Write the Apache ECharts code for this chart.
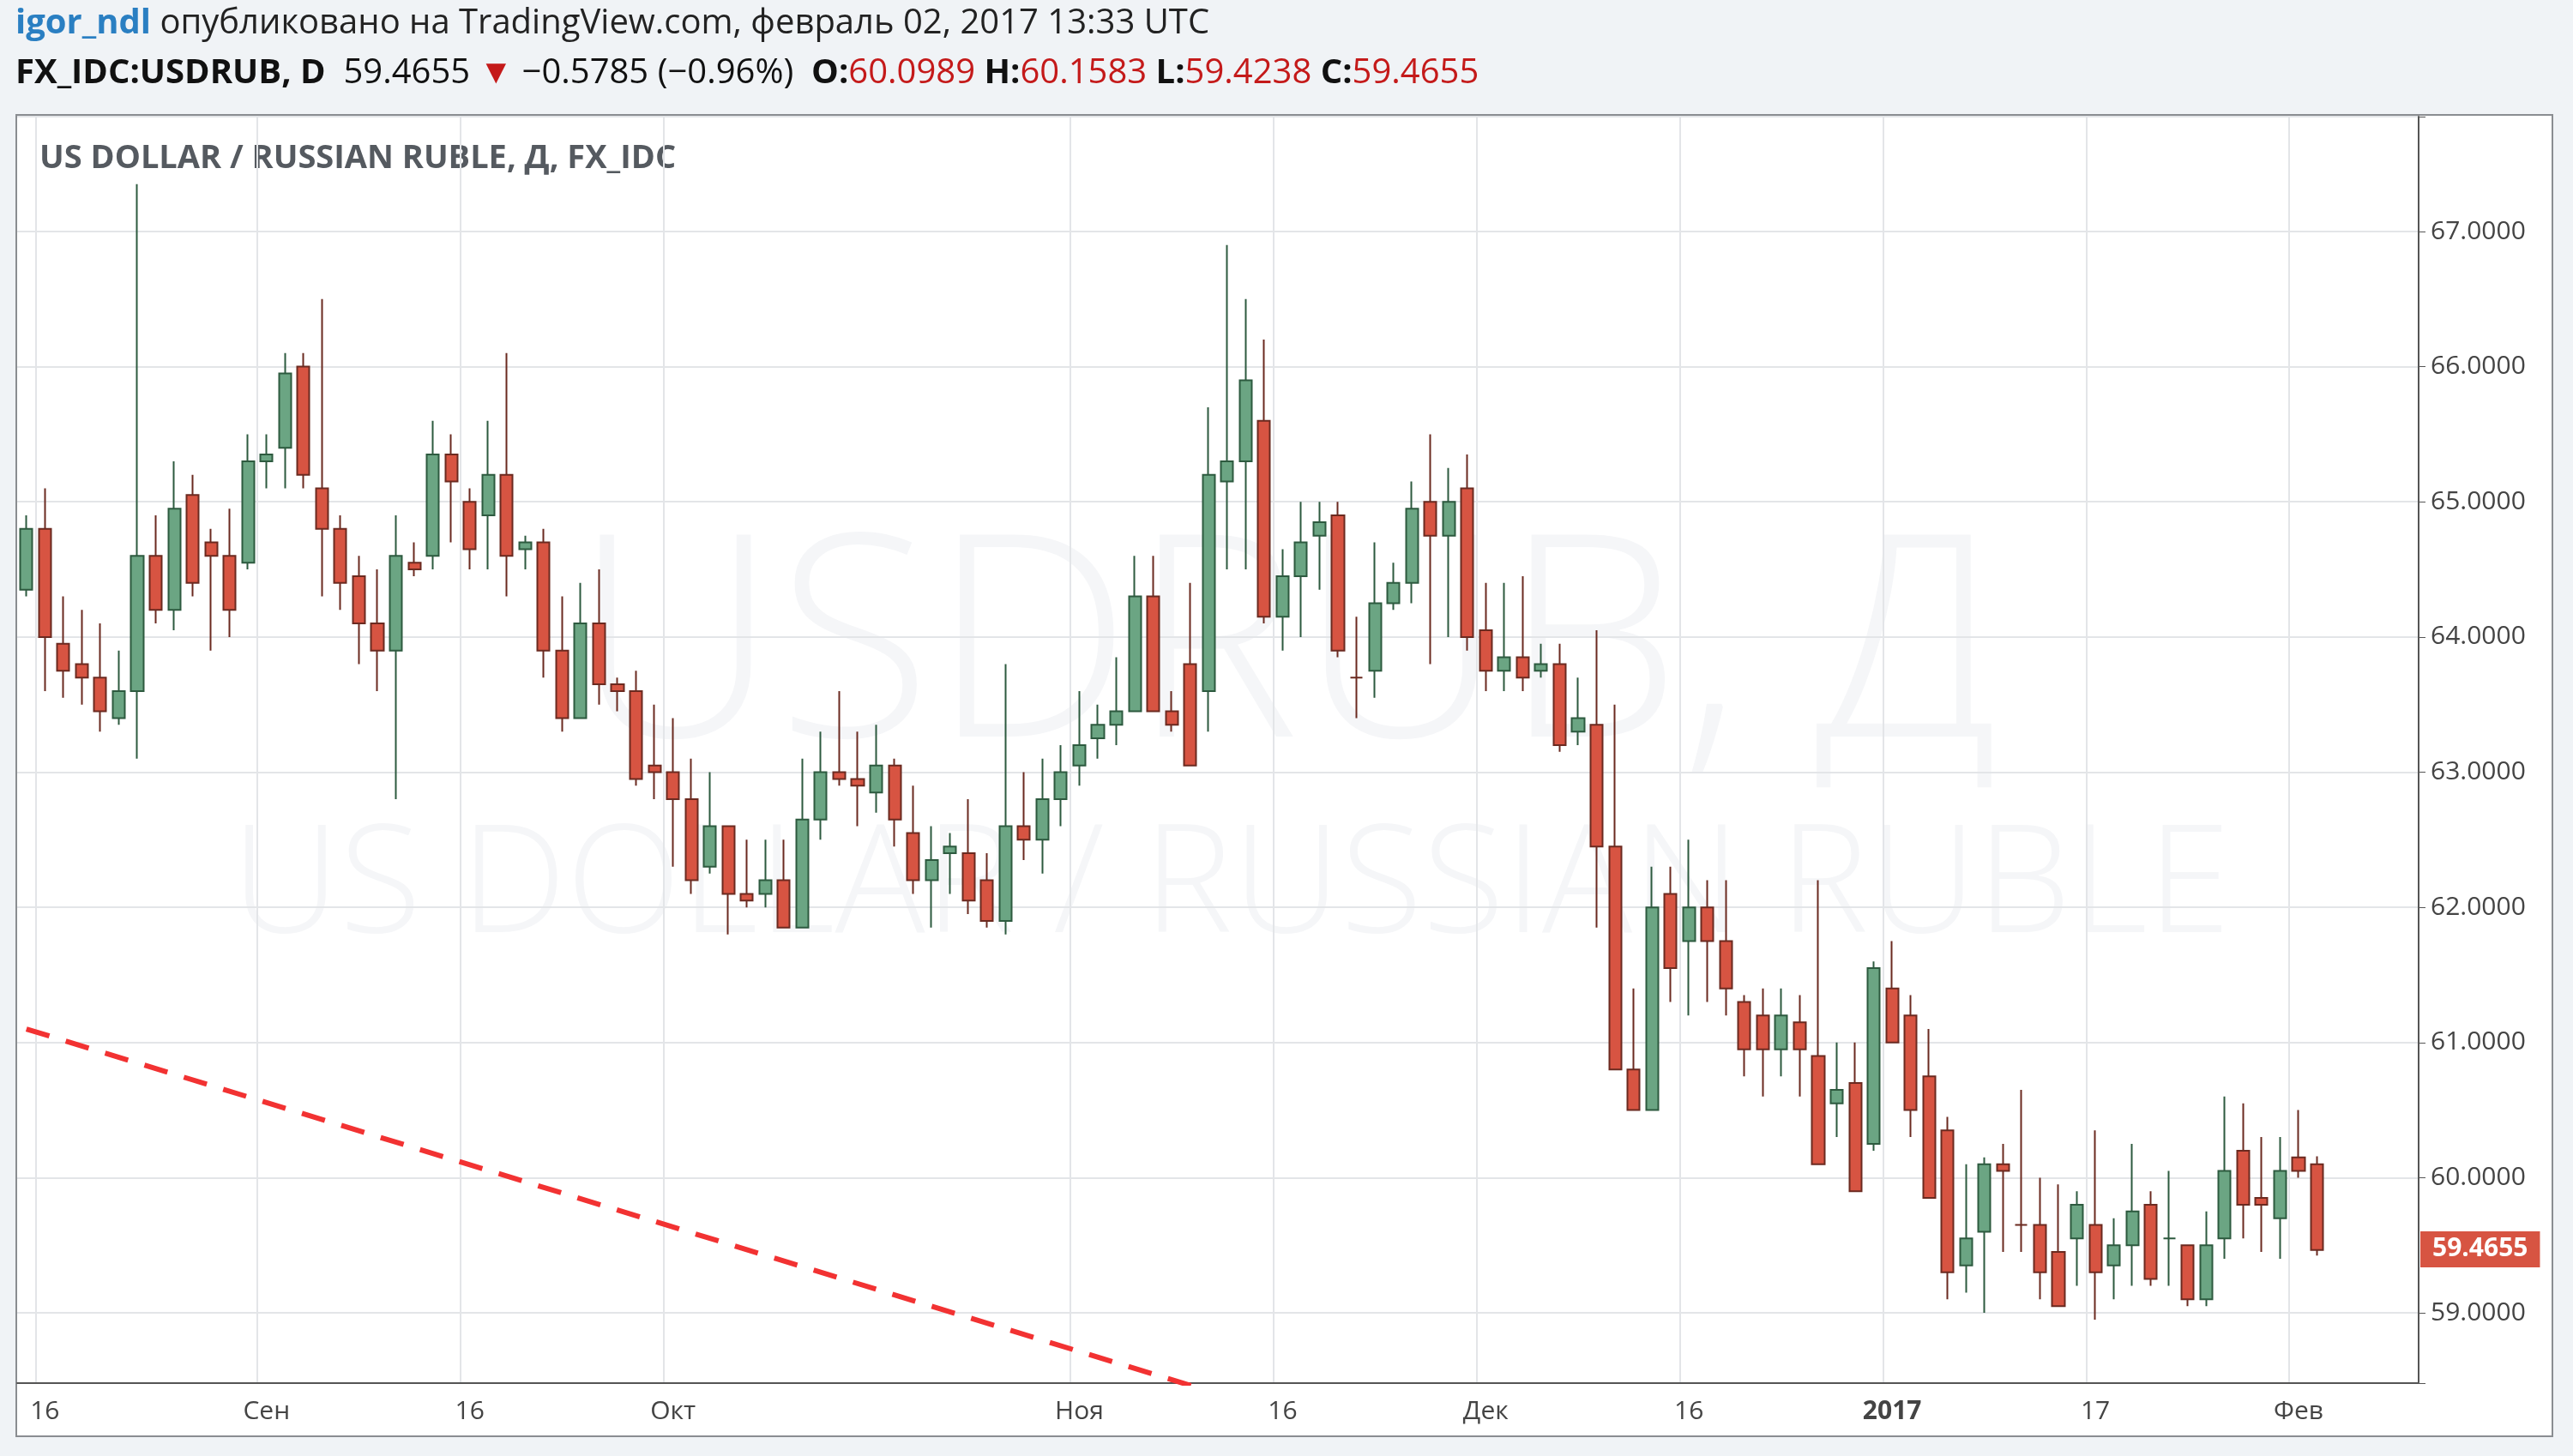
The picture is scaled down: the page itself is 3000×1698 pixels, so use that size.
<!DOCTYPE html>
<html lang="ru">
<head>
<meta charset="UTF-8">
<title>USDRUB</title>
<script src="https://cdn.jsdelivr.net/npm/echarts@6/dist/echarts.min.js"></script>
<style>
  html, body { margin: 0; padding: 0; background: #f0f3f6; }
  #main { width: 3000px; height: 1698px; }
</style>
</head>
<body>
<div id="main"></div>
<script>
// daily candles
var opens  = [64.35,64.8,63.95,63.8,63.7,63.4,63.6,64.6,64.2,65.05,64.7,64.6,64.55,65.3,65.4,66.0,65.1,64.8,64.45,64.1,63.9,64.55,64.6,65.35,65.0,64.9,65.2,64.65,64.7,63.9,63.4,64.1,63.65,63.6,63.05,63.0,62.8,62.3,62.6,62.1,62.1,62.2,61.85,62.65,63.0,62.95,62.85,63.05,62.55,62.2,62.4,62.4,62.2,61.9,62.6,62.5,62.8,63.05,63.25,63.35,63.45,64.3,63.45,63.8,63.6,65.15,65.3,65.6,64.15,64.45,64.75,64.9,63.7,63.75,64.25,64.4,65.0,64.75,65.1,64.05,63.75,63.85,63.75,63.8,63.3,63.35,62.45,60.8,60.5,62.1,61.75,62.0,61.75,61.3,61.2,60.95,61.15,60.9,60.55,60.7,60.25,61.4,61.2,60.75,60.35,59.35,59.6,60.1,59.65,59.65,59.45,59.55,59.65,59.35,59.5,59.8,59.55,59.5,59.1,59.55,60.2,59.85,59.7,60.15,60.0989];
var closes = [64.8,64.0,63.75,63.7,63.45,63.6,64.6,64.2,64.95,64.4,64.6,64.2,65.3,65.35,65.95,65.2,64.8,64.4,64.1,63.9,64.6,64.5,65.35,65.15,64.65,65.2,64.6,64.7,63.9,63.4,64.1,63.65,63.6,62.95,63.0,62.8,62.2,62.6,62.1,62.05,62.2,61.85,62.65,63.0,62.95,62.9,63.05,62.65,62.2,62.35,62.45,62.05,61.9,62.6,62.5,62.8,63.0,63.2,63.35,63.45,64.3,63.45,63.35,63.05,65.2,65.3,65.9,64.15,64.45,64.7,64.85,63.9,63.7,64.25,64.4,64.95,64.75,65.0,64.0,63.75,63.85,63.7,63.8,63.2,63.4,62.45,60.8,60.5,62.0,61.55,62.0,61.75,61.4,60.95,60.95,61.2,60.95,60.1,60.65,59.9,61.55,61.0,60.5,59.85,59.3,59.55,60.1,60.05,59.65,59.3,59.05,59.8,59.3,59.5,59.75,59.25,59.55,59.1,59.5,60.05,59.8,59.8,60.05,60.05,59.4655];
var lows   = [64.3,63.6,63.55,63.5,63.3,63.35,63.1,64.1,64.05,64.3,63.9,64.0,64.5,65.1,65.1,65.1,64.3,64.2,63.8,63.6,62.8,64.45,64.5,64.7,64.5,64.5,64.3,64.5,63.7,63.3,63.4,63.5,63.45,62.9,62.8,62.3,62.1,62.25,61.8,62.0,62.0,61.85,61.85,62.5,62.9,62.6,62.7,62.45,62.1,61.85,62.1,61.95,61.85,61.8,62.35,62.25,62.6,62.9,63.1,63.2,63.45,63.45,63.3,63.05,63.3,64.5,64.5,64.1,63.9,64.0,64.35,63.85,63.4,63.55,64.2,64.25,63.8,64.0,63.9,63.6,63.6,63.6,63.7,63.15,63.2,61.85,60.8,60.5,60.5,61.3,61.2,61.3,61.2,60.75,60.6,60.75,60.6,60.1,60.3,59.9,60.2,61.0,60.3,59.85,59.1,59.15,59.0,59.45,59.45,59.1,59.05,59.2,58.95,59.1,59.2,59.2,59.2,59.05,59.05,59.4,59.55,59.45,59.4,60.0,59.4238];
var highs  = [64.9,65.1,64.3,64.2,64.1,63.9,67.35,64.9,65.3,65.2,64.8,64.95,65.5,65.5,66.1,66.1,66.5,64.9,64.6,64.5,64.9,64.7,65.6,65.5,65.1,65.6,66.1,64.75,64.8,64.3,64.4,64.5,63.7,63.75,63.5,63.4,63.1,63.0,62.6,62.5,62.5,62.5,63.1,63.3,63.6,63.3,63.35,63.1,62.9,62.6,62.55,62.8,62.4,63.8,63.0,63.1,63.2,63.6,63.5,63.85,64.6,64.6,63.6,64.4,65.7,66.9,66.5,66.2,64.65,65.0,65.0,65.0,64.15,64.7,64.55,65.15,65.5,65.25,65.35,64.4,64.4,64.45,63.95,63.95,63.7,64.05,63.5,61.4,62.3,62.3,62.5,62.2,62.2,61.35,61.4,61.4,61.35,62.2,61.0,61.0,61.6,61.75,61.35,61.1,60.45,60.1,60.15,60.25,60.65,60.0,59.95,59.9,60.35,59.7,60.25,59.9,60.05,59.5,59.75,60.6,60.55,60.3,60.3,60.5,60.1583];
// date labels under the candles (index -> text)
var dateLabels = {1:'16', 13:'Сен', 24:'16', 35:'Окт', 57:'Ноя', 68:'16', 79:'Дек', 90:'16', 101:'2017', 112:'17', 123:'Фев'};
var emptySlots = 5;   // free space right of the last candle
// hand drawn trend line: [candle index, price]
var trendLine = [[0, 61.1], [70, 58.17]];
var lastPrice = 59.4655;

var categories = [];
var candles = [];
for (var i = 0; i < opens.length + emptySlots; i++) {
    categories.push(dateLabels[i] || '');
    if (i < opens.length) candles.push([opens[i], closes[i], lows[i], highs[i]]);
}

var myChart = echarts.init(document.getElementById('main'));
var font = '"Open Sans", "Noto Sans", sans-serif';
var option = {
    backgroundColor: '#f0f3f6',
    animation: false,
    textStyle: { fontFamily: font },
    graphic: [
        { type: 'rect', z: -10, shape: { x: 19, y: 134, width: 2957, height: 1541 },
          style: { fill: '#ffffff', stroke: '#8a8d91', lineWidth: 2 } },
        { type: 'text', z: -5, left: 'center', top: 600,
          style: { text: 'USDRUB, Д', font: '300 330px ' + font, fill: '#f5f6f8' } },
        { type: 'text', z: -5, left: 270, top: 950,
          style: { text: 'US DOLLAR / RUSSIAN RUBLE', font: '300 175px ' + font, fill: '#f5f6f8' } },
        { type: 'text', left: 46, top: 166,
          style: { text: 'US DOLLAR / RUSSIAN RUBLE, Д, FX_IDC', font: 'bold 38px ' + font, fill: '#555a60' } },
        { type: 'text', left: 18, top: 8,
          style: {
              text: '{u|igor_ndl}{n| опубликовано на TradingView.com, февраль 02, 2017 13:33 UTC}',
              rich: {
                  u: { font: 'bold 40px ' + font, fill: '#2a7fc2' },
                  n: { font: '40px ' + font, fill: '#222' }
              }
          } },
        { type: 'text', left: 18, top: 66,
          style: {
              text: '{b|FX_IDC:USDRUB, D}{n|  59.4655 }{r|▼}{n| −0.5785 (−0.96%)  }{b|O:}{r|60.0989 }{b|H:}{r|60.1583 }{b|L:}{r|59.4238 }{b|C:}{r|59.4655}',
              rich: {
                  b: { font: 'bold 40px ' + font, fill: '#111' },
                  n: { font: '40px ' + font, fill: '#111' },
                  r: { font: '40px ' + font, fill: '#c41a1a' }
              }
          } }
    ],
    grid: { left: 20, right: 180, top: 136, bottom: 85 },
    xAxis: {
        type: 'category',
        data: categories,
        boundaryGap: true,
        axisLine: { lineStyle: { color: '#555', width: 2 } },
        axisTick: { show: false },
        axisLabel: {
            interval: 0, color: '#444', fontSize: 30, margin: 18,
            formatter: function (v) { return v === '2017' ? '{y|2017}' : v; },
            rich: { y: { fontWeight: 'bold', fontSize: 30, color: '#444' } }
        },
        splitLine: {
            show: true,
            interval: function (idx, v) { return v !== ''; },
            lineStyle: { color: '#e3e5e8', width: 2 }
        }
    },
    yAxis: {
        type: 'value',
        position: 'right',
        min: 58.48,
        max: 67.85,
        splitNumber: 9,
        axisLine: { show: true, lineStyle: { color: '#555', width: 2 } },
        axisTick: { show: true, length: 8, lineStyle: { color: '#555' } },
        axisLabel: { color: '#444', fontSize: 30, margin: 14,
            formatter: function (v) { return Number.isInteger(v) ? v.toFixed(4) : ''; } },
        splitLine: { lineStyle: { color: '#e3e5e8', width: 2 } }
    },
    series: [
        {
            type: 'candlestick',
            data: candles,
            barWidth: '68%',
            itemStyle: {
                color: '#6ba583', color0: '#d75442',
                borderColor: '#2d5a3f', borderColor0: '#6b2a20', borderWidth: 2
            },
            markLine: {
                symbol: 'none', silent: true,
                data: [{ yAxis: lastPrice }],
                lineStyle: { color: 'rgba(0,0,0,0)', width: 1, type: 'solid' },
                label: {
                    show: true,
                    position: 'end', formatter: lastPrice.toFixed(4),
                    color: '#fff', fontSize: 30, fontWeight: 'bold',
                    backgroundColor: '#d75442', padding: [6, 14], distance: 2
                }
            }
        },
        {
            type: 'line',
            data: trendLine,
            symbol: 'none',
            silent: true,
            lineStyle: { color: '#f23232', width: 6, type: [28, 20] }
        }
    ]
};
myChart.setOption(option);
</script>
</body>
</html>
